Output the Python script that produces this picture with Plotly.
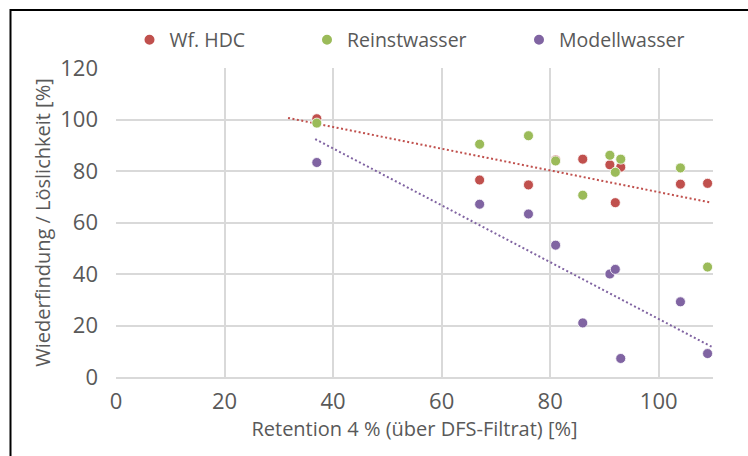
import plotly.graph_objects as go

# ---- data ----
x_ret = [37, 67, 76, 81, 86, 91, 92, 93, 104, 109]
y_hdc = [100.3, 76.5, 74.6, 84.3, 84.6, 82.4, 67.7, 81.5, 74.9, 75.2]
y_rein = [98.6, 90.4, 93.7, 83.9, 70.6, 86.1, 79.5, 84.6, 81.2, 42.7]
y_modell = [83.3, 67.1, 63.3, 51.2, 21.0, 40.0, 41.8, 7.2, 29.2, 9.1]

trend_hdc_x = [31.7, 109.7]
trend_hdc_y = [100.6, 67.7]
trend_mod_x = [36.7, 109.8]
trend_mod_y = [92.4, 11.7]

names = ["Wf. HDC", "Reinstwasser", "Modellwasser"]
colors = ["#C0504D", "#9BBB59", "#8064A2"]
x_ticks = [0, 20, 40, 60, 80, 100]
y_ticks = [0, 20, 40, 60, 80, 100, 120]

FONT = "Open Sans"
GREY = "#595959"

fig = go.Figure()

# trendlines
fig.add_trace(go.Scatter(x=trend_hdc_x, y=trend_hdc_y, mode="lines",
                         line=dict(color=colors[0], width=2, dash="2px,2.5px"),
                         showlegend=False, hoverinfo="skip"))
fig.add_trace(go.Scatter(x=trend_mod_x, y=trend_mod_y, mode="lines",
                         line=dict(color=colors[2], width=2, dash="2px,2.5px"),
                         showlegend=False, hoverinfo="skip"))

legends = ["legend", "legend2", "legend3"]
for ys, nm, c, lg in zip([y_hdc, y_rein, y_modell], names, colors, legends):
    fig.add_trace(go.Scatter(x=x_ret, y=ys, mode="markers", name=nm,
                             marker=dict(color=c, size=10,
                                         line=dict(color="white", width=0.8)),
                             legend=lg))

# plot area: x 116..713 px, y 68..377 px
L, R, T, B = 116, 35, 68, 79
W, H = 748, 456
pw = W - L - R
ph = H - T - B

def lx(px):
    return (px - L) / pw

leg_common = dict(orientation="h", yanchor="middle", y=1.0 + (T - 40) / ph,
                  xanchor="left", bgcolor="rgba(0,0,0,0)",
                  font=dict(family=FONT, size=19.5, color=GREY),
                  itemsizing="constant")

fig.update_layout(
    width=W, height=H,
    margin=dict(l=L, r=R, t=T, b=B, autoexpand=False),
    paper_bgcolor="white", plot_bgcolor="white",
    font=dict(family=FONT, color=GREY),
    legend=dict(x=lx(152.5 - 23), **leg_common),
    legend2=dict(x=lx(330 - 23), **leg_common),
    legend3=dict(x=lx(542 - 23), **leg_common),
    xaxis=dict(range=[0, 110], tickvals=x_ticks, showgrid=True,
               gridcolor="#D9D9D9", gridwidth=1.5, zeroline=False,
               showline=True, linecolor="#D9D9D9", linewidth=2,
               tickfont=dict(family=FONT, size=22, color=GREY),
               ticklabelstandoff=4,
               title=dict(text="Retention 4 % (über DFS-Filtrat) [%]",
                          font=dict(family=FONT, size=20, color=GREY),
                          standoff=4),
               ticks="", fixedrange=True),
    yaxis=dict(range=[0, 120], tickvals=y_ticks, showgrid=True,
               gridcolor="#D9D9D9", gridwidth=1.5, zeroline=False,
               showline=False,
               tickfont=dict(family=FONT, size=22, color=GREY),
               ticklabelstandoff=17,
               title=dict(text="Wiederfindung / Löslichkeit [%]",
                          font=dict(family=FONT, size=20, color=GREY),
                          standoff=4),
               ticks="", fixedrange=True),
)

# outer frame of the chart object (black, cut off at right/bottom)
fig.add_shape(type="rect", xref="paper", yref="paper",
              x0=(10.5 - L) / pw, x1=(W + 20 - L) / pw,
              y0=-(B + 20) / ph, y1=1 + (T - 10) / ph,
              line=dict(color="black", width=2), fillcolor="rgba(0,0,0,0)",
              layer="below")

fig.write_html("out.html")
